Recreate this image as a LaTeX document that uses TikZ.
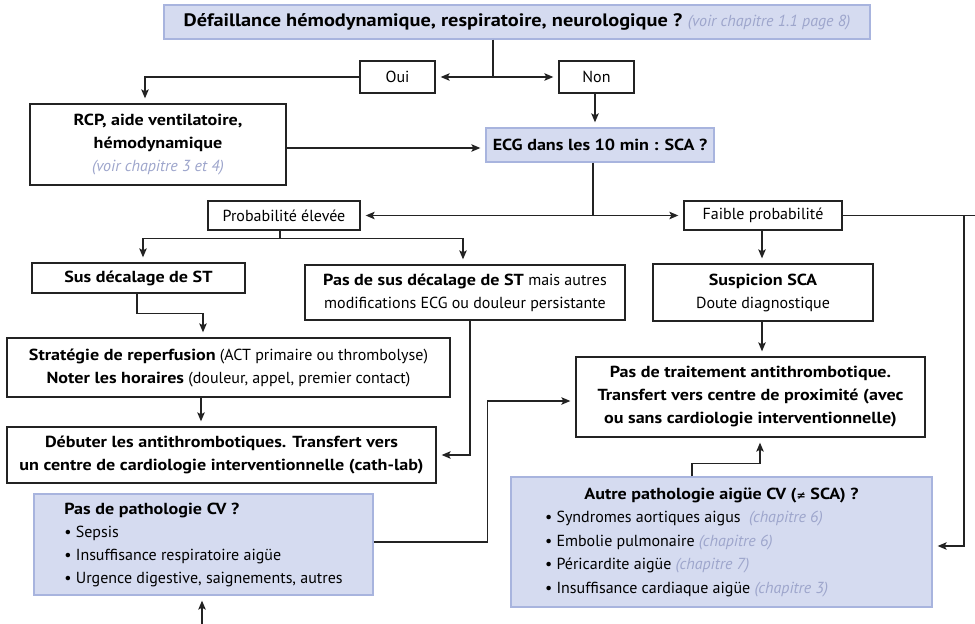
\documentclass[tikz,border=0pt]{standalone}
\usepackage{fontspec}
\setmainfont{PT Sans}[BoldFeatures={FakeStretch=1.13}]
\newfontfamily\symfont{DejaVu Sans}
\usetikzlibrary{arrows.meta,calc}

\definecolor{panelfill}{RGB}{213,219,240}
\definecolor{panelborder}{RGB}{168,180,222}
\definecolor{notegrey}{RGB}{158,166,204}
\definecolor{linecol}{RGB}{35,35,35}

\newcommand\chapnote[1]{{\color{notegrey}\itshape #1}}

\tikzset{
  box/.style={draw=linecol, line width=1.3pt, fill=white, inner sep=0pt, align=center},
  panel/.style={draw=panelborder, line width=1.3pt, fill=panelfill, inner sep=0pt, align=center},
  conn/.style={draw=linecol, line width=1.4pt},
  arr/.style={conn, -{Stealth[length=9pt,width=7.5pt,inset=2pt]}, shorten >=5pt},
}

\begin{document}
\begin{tikzpicture}[x=1pt,y=-1pt,
  every node/.style={font=\fontsize{16}{23}\selectfont}]
\useasboundingbox (0,0) rectangle (975,624);

% boxes
\node[panel, minimum width=706pt, minimum height=34pt] (top) at (517,22)
  {{\fontsize{18}{20}\selectfont\textbf{Défaillance hémodynamique, respiratoire, neurologique ?}} \chapnote{(voir chapitre 1.1 page 8)}};
\node[box, minimum width=75pt, minimum height=32pt] (oui) at (397.5,77) {Oui};
\node[box, minimum width=75pt, minimum height=32pt] (non) at (596.5,77) {Non};
\node[box, minimum width=256pt, minimum height=81pt] (rcp) at (158,144.5)
  {\textbf{RCP, aide ventilatoire,}\\\textbf{hémodynamique}\\\chapnote{(voir chapitre 3 et 4)}};
\node[panel, minimum width=228pt, minimum height=34pt] (ecg) at (600,145)
  {\textbf{ECG dans les 10 min : SCA ?}};
\node[box, minimum width=152pt, minimum height=29pt] (prob) at (284,215.5) {Probabilité élevée};
\node[box, minimum width=158pt, minimum height=29pt] (faible) at (763,215.5) {Faible probabilité};
\node[box, minimum width=213pt, minimum height=30pt] (sus) at (138.5,278) {\textbf{Sus décalage de ST}};
\node[box, minimum width=320pt, minimum height=55pt] (passus) at (465,292.5)
  {\textbf{Pas de sus décalage de ST} mais autres\\modifications ECG ou douleur persistante};
\node[box, minimum width=220pt, minimum height=57pt] (susp) at (763,292.5)
  {\textbf{Suspicion SCA}\\Doute diagnostique};
\node[box, minimum width=443pt, minimum height=59pt] (strat) at (228.5,367.5)
  {\textbf{Stratégie de reperfusion} (ACT primaire ou thrombolyse)\\\textbf{Noter les horaires} (douleur, appel, premier contact)};
\node[box, minimum width=429pt, minimum height=56pt] (debut) at (221.5,455)
  {\textbf{Débuter les antithrombotiques. Transfert vers}\\\textbf{un centre de cardiologie interventionnelle (cath-lab)}};
\node[box, minimum width=349pt, minimum height=80pt] (pastrait) at (750.5,397)
  {\textbf{Pas de traitement antithrombotique.}\\\textbf{Transfert vers centre de proximité (avec}\\\textbf{ou sans cardiologie interventionnelle)}};
\node[panel, minimum width=339pt, minimum height=101pt, align=left] (paspath) at (203.5,544.5)
  {\textbf{Pas de pathologie CV ?}\\• Sepsis\\• Insuffisance respiratoire aigüe\\• Urgence digestive, saignements, autres};
\node[panel, minimum width=421pt, minimum height=130pt] (autre) at (721.5,542)
  {\parbox{401pt}{\fontsize{16}{23.5}\selectfont
    {\centering\textbf{Autre pathologie aigüe CV ({\symfont\fontsize{11}{12}\selectfont ≠} SCA) ?}\par}
    \raggedright\leftskip=24pt
    • Syndromes aortiques aigus \ \chapnote{(chapitre 6)}\\
    • Embolie pulmonaire \chapnote{(chapitre 6)}\\
    • Péricardite aigüe \chapnote{(chapitre 7)}\\
    • Insuffisance cardiaque aigüe \chapnote{(chapitre 3)}\par}};

% free ends
\coordinate (edge) at (975,0);
\coordinate (drop) at (964,0);
\coordinate (below) at (202,624);

% connection points
\coordinate (topsplit) at ($(top.south)+(-24,0)$);
\coordinate (nonout) at ($(non.south)+(-1.5,0)$);
\coordinate (rcpout) at ($(rcp.east)+(0,3.5)$);
\coordinate (ecgsplit) at ($(ecg.south)+(-7,0)$);
\coordinate (probout) at ($(prob.south)+(-4,0)$);
\coordinate (probsplit) at ($(prob.south)+(-4,8)$);
\coordinate (susout) at ($(sus.south)+(-1.5,0)$);
\coordinate (stratout) at ($(strat.south)+(-27.5,0)$);
\coordinate (passusout) at ($(passus.south)+(5,0)$);
\coordinate (faibleout) at ($(faible.south)+(-1,0)$);
\coordinate (suspout) at ($(susp.south)+(-1,0)$);
\coordinate (autreout) at ($(autre.north)+(-29.5,0)$);
\coordinate (paspathout) at ($(paspath.east)+(0,-2.5)$);

% connectors
\draw[conn] (topsplit) -- (topsplit |- oui.east);
\draw[arr] (topsplit |- oui.east) -- (oui.east);
\draw[arr] (topsplit |- non.west) -- (non.west);
\draw[arr] (oui.west) -| ($(rcp.north)+(-13,0)$);
\draw[arr] (nonout) -- (nonout |- ecg.north);
\draw[arr] (rcpout) -- (rcpout -| ecg.west);

\draw[conn] (ecgsplit) -- (ecgsplit |- prob.east);
\draw[arr] (ecgsplit |- prob.east) -- (prob.east);
\draw[arr] (ecgsplit |- faible.west) -- (faible.west);

\draw[conn] (probout) -- (probsplit);
\draw[arr] (probsplit) -| ($(sus.north)+(4.5,0)$);
\draw[arr] (probsplit) -| ($(passus.north)+(-2,0)$);

\draw[arr] (susout) -- ++(0,20) -| ($(strat.north)+(-25.5,0)$);
\draw[arr] (stratout) -- (stratout |- debut.north);
\draw[arr] (passusout) |- (debut.east);

\draw[arr] (faibleout) -- (faibleout |- susp.north);
\draw[arr] (suspout) -- (suspout |- pastrait.north);

\draw[conn] (faible.east) -- (faible.east -| edge);
\draw[arr] (faible.east -| drop) |- ($(autre.east)+(0,4)$);

\draw[arr] (autreout) -- ++(0,-13) -| ($(pastrait.south)+(9.5,0)$);
\draw[arr] (paspathout) -- ++(114,0) |- ($(pastrait.west)+(0,4)$);
\draw[arr] (below) -- (below |- paspath.south);
\end{tikzpicture}
\end{document}
